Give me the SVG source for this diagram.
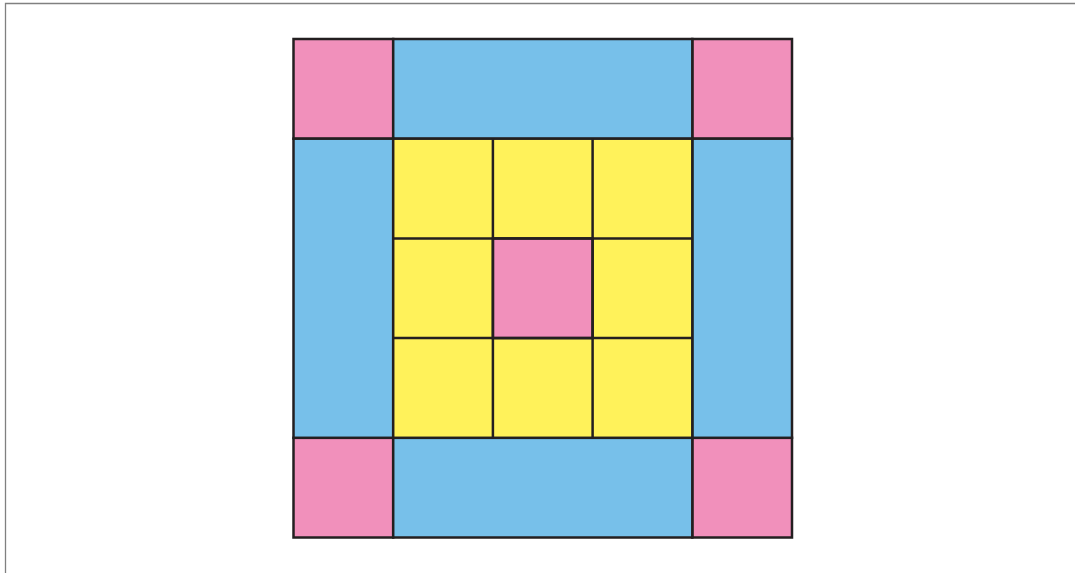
<svg xmlns="http://www.w3.org/2000/svg" width="1075" height="573" viewBox="0 0 1075 573">
<style>
.p{fill:#f190bb}.b{fill:#77c0ea}.y{fill:#fff25a}
.c{stroke:#231f20;stroke-width:2.5;}
.ln{stroke:#231f20;stroke-width:2.5;fill:none}
</style>
<rect width="1075" height="573" fill="#fff"/>
<path d="M5.5 573V3.5H1075" fill="none" stroke="#808080" stroke-width="1.3"/>
<g id="corner-tl"><rect class="p c" x="293.5" y="39" width="99.7" height="99.7"/></g>
<g id="corner-tr"><rect class="p c" x="692.3" y="39" width="99.7" height="99.7"/></g>
<g id="corner-bl"><rect class="p c" x="293.5" y="437.8" width="99.7" height="99.7"/></g>
<g id="corner-br"><rect class="p c" x="692.3" y="437.8" width="99.7" height="99.7"/></g>
<g id="band-top"><rect class="b c" x="393.2" y="39" width="299.1" height="99.7"/></g>
<g id="band-bottom"><rect class="b c" x="393.2" y="437.8" width="299.1" height="99.7"/></g>
<g id="band-left"><rect class="b c" x="293.5" y="138.7" width="99.7" height="299.1"/></g>
<g id="band-right"><rect class="b c" x="692.3" y="138.7" width="99.7" height="299.1"/></g>
<g id="center-block"><rect class="y c" x="393.2" y="138.7" width="299.1" height="299.1"/></g>
<g id="center-cell"><rect class="p c" x="492.9" y="238.4" width="99.7" height="99.7"/></g>
<g id="grid-lines">
<path class="ln" d="M492.9 138.7V437.8M592.6 138.7V437.8M393.2 238.4H692.3M393.2 338.1H692.3"/>
</g>
</svg>
